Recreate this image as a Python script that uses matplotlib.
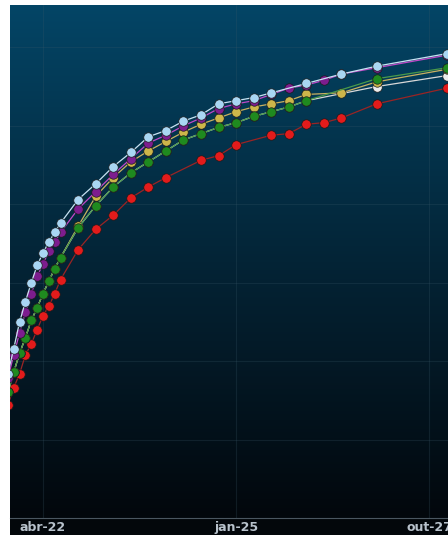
import numpy as np
import matplotlib
matplotlib.use("Agg")
import matplotlib.pyplot as plt
from matplotlib.colors import LinearSegmentedColormap
from matplotlib.patches import Rectangle

# months counted from jan-22
tick_pos = [3, 36, 69]
tick_labels = ["abr-22", "jan-25", "out-27"]

t_blue = [-3, -2, -1, 0, 1, 2, 3, 4, 5, 6, 9, 12, 15, 18, 21, 24, 27, 30, 33, 36, 39, 42, 48, 54, 60, 72]
blue = [9.92, 10.08, 10.25, 10.38, 10.50, 10.61, 10.69, 10.76, 10.82, 10.88, 11.03, 11.13, 11.24,
        11.33, 11.43, 11.47, 11.53, 11.57, 11.64, 11.66, 11.68, 11.71, 11.77, 11.83, 11.88, 11.96]

t_purple = [-3, -2, -1, 0, 1, 2, 3, 4, 5, 6, 9, 12, 15, 18, 21, 24, 27, 30, 33, 36, 39, 42, 45, 48, 51, 54, 60, 72]
purple = [9.89, 10.04, 10.18, 10.31, 10.43, 10.54, 10.62, 10.70, 10.76, 10.82, 10.97, 11.08, 11.19, 11.29,
          11.39, 11.44, 11.50, 11.55, 11.61, 11.64, 11.66, 11.70, 11.74, 11.76, 11.79, 11.83, 11.87, 11.95]

t_yellow = [-3, -2, -1, 0, 1, 2, 3, 4, 5, 6, 9, 12, 15, 18, 21, 24, 27, 30, 33, 36, 39, 42, 45, 48, 54, 60, 72]
yellow = [9.80, 9.93, 10.05, 10.15, 10.26, 10.34, 10.43, 10.51, 10.59, 10.66, 10.86, 11.05, 11.17, 11.27,
          11.34, 11.40, 11.46, 11.51, 11.55, 11.59, 11.62, 11.64, 11.66, 11.70, 11.71, 11.78, 11.86]

t_green = [-3, -2, -1, 0, 1, 2, 3, 4, 5, 6, 9, 12, 15, 18, 21, 24, 27, 30, 33, 36, 39, 42, 45, 48, 60, 72]
green = [9.80, 9.93, 10.05, 10.15, 10.26, 10.34, 10.43, 10.51, 10.59, 10.66, 10.85, 10.99, 11.11,
         11.20, 11.27, 11.34, 11.41, 11.45, 11.49, 11.52, 11.56, 11.59, 11.62, 11.66, 11.80, 11.87]

t_white = [-3, -2, -1, 0, 1, 2, 3, 4, 5, 6, 9, 12, 15, 18, 21, 24, 27, 30, 33, 36, 39, 42, 45, 48, 60, 72]
white = [9.80, 9.93, 10.05, 10.15, 10.26, 10.34, 10.43, 10.51, 10.59, 10.66, 10.85, 10.99, 11.11,
         11.20, 11.27, 11.34, 11.41, 11.45, 11.49, 11.52, 11.56, 11.59, 11.62, 11.66, 11.75, 11.82]

t_red = [-3, -2, -1, 0, 1, 2, 3, 4, 5, 6, 9, 12, 15, 18, 21, 24, 30, 33, 36, 42, 45, 48, 51, 54, 60, 72]
red = [9.72, 9.83, 9.92, 10.04, 10.11, 10.20, 10.29, 10.35, 10.43, 10.52, 10.71, 10.84, 10.93,
       11.04, 11.11, 11.17, 11.28, 11.31, 11.38, 11.44, 11.45, 11.51, 11.52, 11.55, 11.64, 11.74]

W, H = 448, 535
fig = plt.figure(figsize=(W / 100, H / 100), dpi=100, facecolor="white")
fig.patches.append(Rectangle((10 / W, 0), 1, 1 - 5 / H, transform=fig.transFigure,
                             facecolor="#03070b", edgecolor="none", zorder=-1))
ax = fig.add_axes([10 / W, 17 / H, 1 - 10 / W, 1 - 22 / H])
ax.set_zorder(1)

grad = LinearSegmentedColormap.from_list("bg", ["#02070c", "#042436", "#034566"])
ax.imshow(np.linspace(0, 1, 256)[::-1].reshape(-1, 1), cmap=grad, aspect="auto",
          extent=[0, 1, 0, 1], transform=ax.transAxes, zorder=0, interpolation="bilinear")

series = [
    (t_red, red, "#e31b1b", "#9a2424"),
    (t_white, white, "#ececec", "#d8d8d8"),
    (t_yellow, yellow, "#cdb64a", "#c8b060"),
    (t_green, green, "#1f8a1f", "#4a9a4a"),
    (t_purple, purple, "#7d1d8e", "#c048c8"),
    (t_blue, blue, "#a9d6f3", "#c8e2f2"),
]
for i, (tx, ys, mc, lc) in enumerate(series):
    ax.plot(tx, ys, color=lc, lw=0.9, zorder=2 + i)
    ax.plot(tx, ys, ls="none", marker="o", ms=6.8, mfc=mc, mec="#1a1a1a", mew=0.5, zorder=2 + i)

ax.set_xlim(-2.64, 72.2)
ax.set_ylim(9.0, 12.27)
ax.set_xticks(tick_pos)
ax.set_xticklabels(tick_labels)
ax.set_yticks(np.arange(9.5, 12.1, 0.5))
ax.grid(True, color="#3a5868", lw=0.8, alpha=0.25, zorder=1)
for s in ["top", "right", "left"]:
    ax.spines[s].set_visible(False)
ax.spines["bottom"].set_color("#4a5660")
ax.tick_params(axis="y", left=False, labelleft=False)
ax.tick_params(axis="x", length=0, pad=2, labelsize=9, labelcolor="#b8c2cc")
for lab in ax.get_xticklabels():
    lab.set_fontweight("bold")

fig.savefig("out.png", dpi=100, facecolor=fig.get_facecolor())
